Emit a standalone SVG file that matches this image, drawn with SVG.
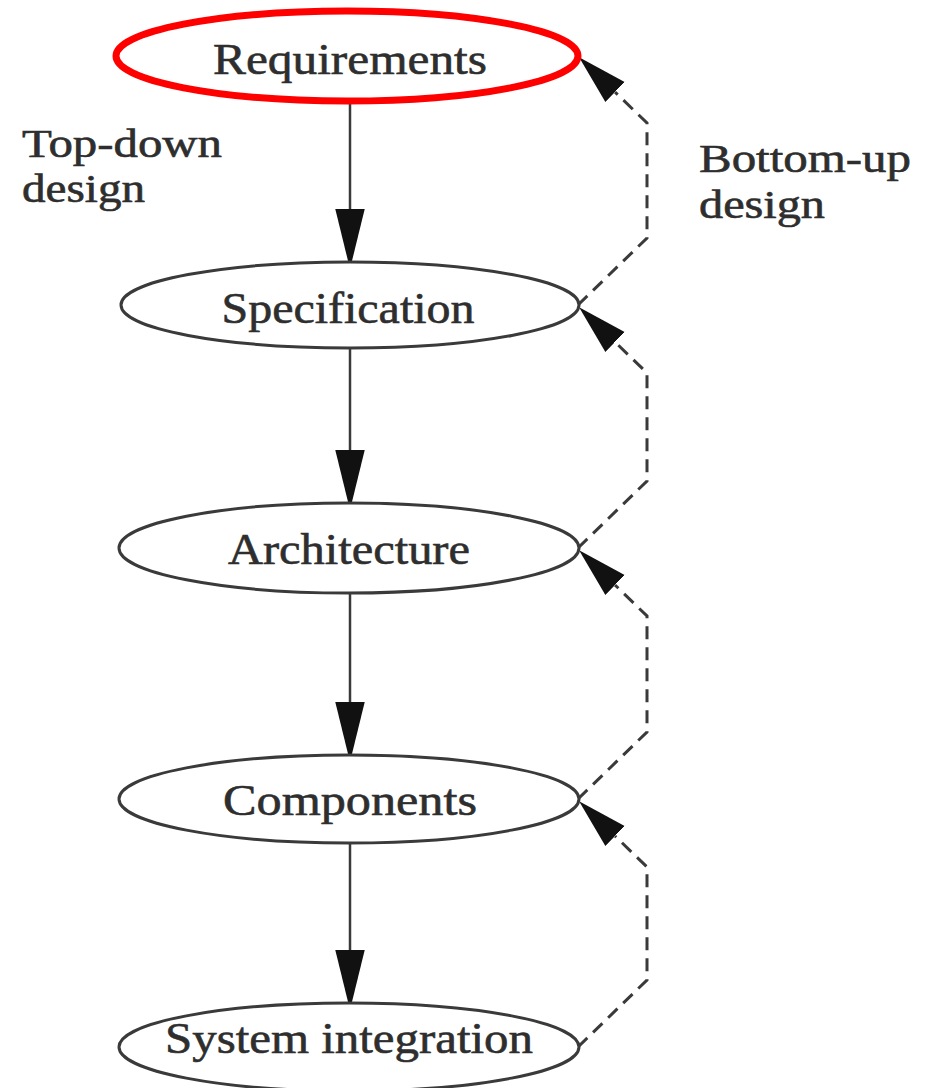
<svg xmlns="http://www.w3.org/2000/svg" width="928" height="1088" viewBox="0 0 928 1088">
  <style>
    .node { fill: #ffffff; stroke: #3a3a3a; stroke-width: 3; }
    .node.hl { stroke: #ff0000; stroke-width: 7; }
    .label { font-family: "Liberation Serif", "DejaVu Serif", serif; font-size: 44px; fill: #2e2e2e; stroke: #2e2e2e; stroke-width: 0.6px; }
    .side { font-size: 40px; }
    .down { fill: none; stroke: #3a3a3a; stroke-width: 2.5; marker-end: url(#solid-down); }
    .up { fill: none; stroke: #3a3a3a; stroke-width: 3; stroke-dasharray: 13 8; marker-end: url(#solid-up); }
  </style>
  <defs>
    <marker id="solid-down" markerUnits="userSpaceOnUse" markerWidth="60" markerHeight="30" refX="0" refY="13" orient="auto" viewBox="0 0 53 26">
      <path d="M0,0 L53,13 L0,26 Z" fill="#111111"/>
    </marker>
    <marker id="solid-up" markerUnits="userSpaceOnUse" markerWidth="50" markerHeight="30" refX="0" refY="13" orient="auto" viewBox="0 0 47 26">
      <path d="M0,0 L47,13 L0,26 Z" fill="#111111"/>
    </marker>
  </defs>

  <!-- connectors: top-down (solid) and bottom-up (dashed) -->
  <g id="connectors">
    <path class="down" d="M350,103 L350,209"/>
    <path class="down" d="M350,348 L350,450"/>
    <path class="down" d="M350,593 L350,702"/>
    <path class="down" d="M350,843 L350,950"/>

    <path class="up" d="M578,305 L647,238 L647,123 L615,92"/>
    <path class="up" d="M578,548 L647,481 L647,373 L615,342"/>
    <path class="up" d="M578,799 L647,732 L647,616 L615,585"/>
    <path class="up" d="M578,1047 L647,980 L647,867 L615,836"/>
  </g>

  <g id="node-requirements">
    <ellipse class="node hl" cx="347" cy="56" rx="231" ry="45"/>
    <text class="label" x="350" y="74" text-anchor="middle" textLength="274" lengthAdjust="spacingAndGlyphs">Requirements</text>
  </g>
  <g id="node-specification">
    <ellipse class="node" cx="350" cy="305" rx="229" ry="43"/>
    <text class="label" x="348" y="323" text-anchor="middle" textLength="253" lengthAdjust="spacingAndGlyphs">Specification</text>
  </g>
  <g id="node-architecture">
    <ellipse class="node" cx="349" cy="548" rx="230" ry="45"/>
    <text class="label" x="349" y="564" text-anchor="middle" textLength="242" lengthAdjust="spacingAndGlyphs">Architecture</text>
  </g>
  <g id="node-components">
    <ellipse class="node" cx="349" cy="799" rx="230" ry="44"/>
    <text class="label" x="350" y="815" text-anchor="middle" textLength="254" lengthAdjust="spacingAndGlyphs">Components</text>
  </g>
  <g id="node-system-integration">
    <ellipse class="node" cx="349" cy="1047" rx="230" ry="44"/>
    <text class="label" x="349" y="1053" text-anchor="middle" textLength="368" lengthAdjust="spacingAndGlyphs">System integration</text>
  </g>

  <g id="label-top-down">
    <text class="label side" x="22" y="157" textLength="200" lengthAdjust="spacingAndGlyphs">Top-down</text>
    <text class="label side" x="22" y="202" textLength="123" lengthAdjust="spacingAndGlyphs">design</text>
  </g>
  <g id="label-bottom-up">
    <text class="label side" x="699" y="172" textLength="212" lengthAdjust="spacingAndGlyphs">Bottom-up</text>
    <text class="label side" x="699" y="218" textLength="126" lengthAdjust="spacingAndGlyphs">design</text>
  </g>
</svg>
